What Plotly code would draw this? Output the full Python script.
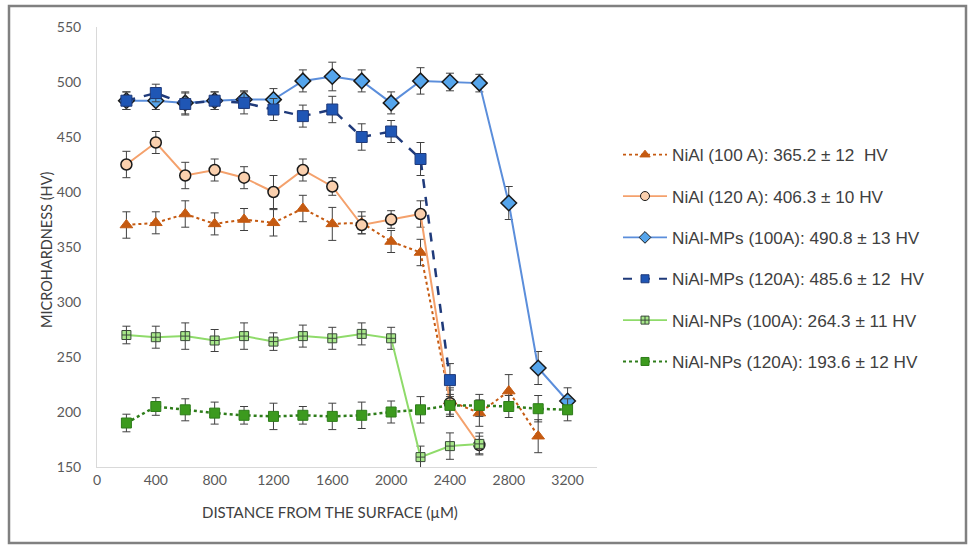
import plotly.graph_objects as go

x_all = [200, 400, 600, 800, 1000, 1200, 1400, 1600, 1800, 2000, 2200, 2400, 2600, 2800, 3000, 3200]

names = [
    "NiAl (100 A): 365.2 ± 12  HV",
    "NiAl (120 A): 406.3 ± 10 HV",
    "NiAl-MPs (100A): 490.8 ± 13 HV",
    "NiAl-MPs (120A): 485.6 ± 12  HV",
    "NiAl-NPs (100A): 264.3 ± 11 HV",
    "NiAl-NPs (120A): 193.6 ± 12 HV",
]

nial100 = [370, 372, 380, 371, 375, 372, 385, 371, 372, 355, 345, 210, 199, 219, 178]
nial100_err = [12, 10, 12, 10, 10, 12, 12, 15, 10, 10, 12, 12, 12, 15, 15]
nial120 = [425, 445, 415, 420, 413, 400, 420, 405, 370, 375, 380, 208, 170]
nial120_err = [12, 10, 12, 10, 10, 15, 10, 8, 8, 8, 12, 12, 8]
mps100 = [483, 483, 481, 483, 484, 484, 501, 505, 501, 481, 501, 500, 499, 390, 240, 210]
mps100_err = [8, 8, 10, 8, 8, 10, 10, 13, 10, 10, 12, 8, 8, 15, 15, 12]
mps120 = [483, 490, 480, 483, 481, 475, 469, 475, 450, 455, 430, 229]
mps120_err = [8, 8, 10, 8, 10, 10, 10, 12, 12, 10, 15, 15]
nps100 = [270, 268, 269, 265, 269, 264, 269, 267, 271, 267, 159, 169, 171]
nps100_err = [8, 10, 12, 10, 12, 8, 10, 10, 10, 10, 10, 12, 10]
nps120 = [190, 205, 202, 199, 197, 196, 197, 196, 197, 200, 202, 206, 206, 205, 203, 202]
nps120_err = [8, 8, 10, 10, 8, 12, 8, 12, 12, 10, 12, 10, 10, 10, 12, 10]

y_ticks = [150, 200, 250, 300, 350, 400, 450, 500, 550]
x_ticks = [0, 400, 800, 1200, 1600, 2000, 2400, 2800, 3200]

series = [
    (nial100, nial100_err, dict(color="#C55A11", width=2, dash="dot"),
     dict(symbol="triangle-up", size=11, color="#C55A11", line=dict(color="#C55A11", width=1)), 9),
    (nial120, nial120_err, dict(color="#F4A16C", width=2),
     dict(symbol="circle", size=11, color="#FAD0AE", line=dict(color="#1a1a1a", width=1.5)), 9),
    (mps100, mps100_err, dict(color="#5B8EDB", width=2),
     dict(symbol="diamond", size=12, color="#55A5EC", line=dict(color="#1a1a1a", width=1.5)), 9),
    (mps120, mps120_err, dict(color="#1F3A7A", width=2.5, dash="dash"),
     dict(symbol="square", size=11, color="#1F56B5", line=dict(color="#1F3A7A", width=1)), 8),
    (nps100, nps100_err, dict(color="#8FDB6A", width=2),
     dict(symbol="square-cross", size=9, color="#A8E88A", line=dict(color="#3a4a3a", width=1)), 8),
    (nps120, nps120_err, dict(color="#2E7D1A", width=2.5, dash="dot"),
     dict(symbol="square", size=10, color="#3C9A1E", line=dict(color="#2E7D1A", width=1)), 8),
]

fig = go.Figure()
for i, (vals, errs, ln, mk, lsize) in enumerate(series):
    fig.add_trace(go.Scatter(
        x=x_all[:len(vals)], y=vals, name=names[i], mode="lines+markers",
        line=ln, marker=mk, showlegend=False,
        error_y=dict(type="data", array=errs, visible=True, color="#404040",
                     thickness=1, width=4),
    ))
# legend entries (smaller symbols as in the original legend)
for i, (vals, errs, ln, mk, lsize) in enumerate(series):
    mk2 = dict(mk)
    mk2["size"] = lsize
    mk2["line"] = dict(mk["line"], width=1)
    fig.add_trace(go.Scatter(
        x=[None], y=[None], name=names[i], mode="lines+markers",
        line=dict(ln, width=1.8), marker=mk2, legendgroup=f"g{i}", showlegend=True,
    ))

W, H = 970, 545
L, R, T, B = 97, 373, 27, 78
pw, ph = W - L - R, H - T - B

def px(xp):
    return (xp - L) / pw

def py(yp):
    return (H - B - yp) / ph

fig.update_layout(
    width=W, height=H,
    margin=dict(l=L, r=R, t=T, b=B),
    paper_bgcolor="white", plot_bgcolor="white",
    showlegend=True,
    legend=dict(x=px(618), y=py(137), xanchor="left", yanchor="top",
                font=dict(family="Liberation Sans, Arial", size=17.2, color="#404040"),
                tracegroupgap=16, itemwidth=44, bgcolor="rgba(0,0,0,0)"),
    xaxis=dict(range=[0, 3400], tickvals=x_ticks, showgrid=False, zeroline=False,
               showline=True, linecolor="#D9D9D9", linewidth=1, ticks="",
               tickfont=dict(family="Lato", size=14, color="#595959")),
    yaxis=dict(range=[150, 550], tickvals=y_ticks, showgrid=False, zeroline=False,
               showline=True, linecolor="#D9D9D9", linewidth=1, ticks="",
               ticklabelstandoff=12,
               tickfont=dict(family="Lato", size=14, color="#595959")),
    annotations=[
        dict(text="DISTANCE FROM THE SURFACE (µM)", xref="paper", yref="paper",
             x=px(330), y=py(512), showarrow=False, xanchor="center", yanchor="middle",
             font=dict(family="Lato", size=15, color="#404040")),
        dict(text="MICROHARDNESS (HV)", xref="paper", yref="paper",
             x=px(46), y=py(250), showarrow=False, textangle=-90,
             xanchor="center", yanchor="middle",
             font=dict(family="Lato", size=14.5, color="#404040")),
    ],
    shapes=[
        dict(type="rect", xref="paper", yref="paper",
             x0=px(9), x1=px(966), y0=py(543), y1=py(6),
             line=dict(color="#808080", width=2.5)),
    ],
)

fig.write_html("out.html", config={"displayModeBar": False},
               post_script="document.body.style.margin='0px';")
